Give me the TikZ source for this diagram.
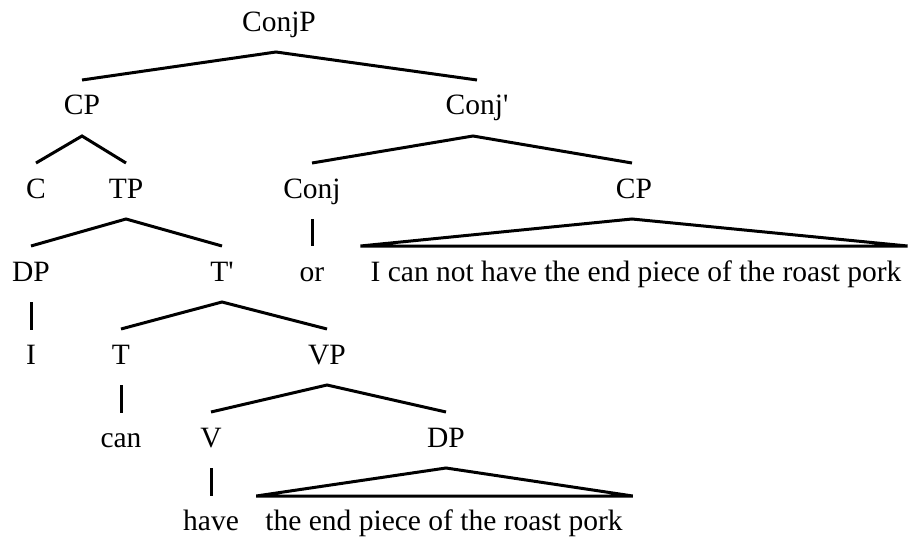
\documentclass[tikz,border=0pt]{standalone}
\usepackage{fontspec}
\setmainfont{Liberation Serif}
\begin{document}
\begin{tikzpicture}[x=1pt,y=-1pt,
  lab/.style={anchor=base,inner sep=0pt,font=\fontsize{29.5}{32}\selectfont},
  edge/.style={line width=3pt,line join=miter},
  ]
\useasboundingbox (0,0) rectangle (909,540);
% row 0
\node[lab] (conjp) at (279,32) {ConjP};
% row 1
\node[lab] (cpa) at (82,115) {CP};
\node[lab] (conjbar) at (477,115) {Conj\textquotesingle};
% row 2
\node[lab] (c) at (36,198) {C};
\node[lab] (tp) at (126,198) {TP};
\node[lab] (conj) at (312,198) {Conj};
\node[lab] (cpb) at (634,198) {CP};
% row 3
\node[lab] (dpa) at (31,281) {DP};
\node[lab] (tbar) at (222,281) {T\textquotesingle};
\node[lab] (or) at (312,281) {or};
\node[lab] (sa) at (636,281) {I can not have the end piece of the roast pork};
% row 4
\node[lab] (i) at (31,364) {I};
\node[lab] (t) at (121,364) {T};
\node[lab] (vp) at (327,364) {VP};
% row 5
\node[lab] (can) at (121,447) {can};
\node[lab] (v) at (211,447) {V};
\node[lab] (dpb) at (446,447) {DP};
% row 6
\node[lab] (have) at (211,530) {have};
\node[lab] (sb) at (444,530) {the end piece of the roast pork};

% branches
\draw[edge] ([yshift=35pt]cpa.base) -- ([xshift=-3pt,yshift=-20pt]conjp.base) -- ([yshift=35pt]conjbar.base);
\draw[edge] ([yshift=35pt]c.base) -- ([yshift=-21pt]cpa.base) -- ([yshift=35pt]tp.base);
\draw[edge] ([yshift=35pt]conj.base) -- ([xshift=-4pt,yshift=-21pt]conjbar.base) -- ([xshift=-2pt,yshift=35pt]cpb.base);
\draw[edge] ([yshift=35pt]dpa.base) -- ([yshift=-21pt]tp.base) -- ([yshift=35pt]tbar.base);
\draw[edge] ([yshift=35pt]t.base) -- ([yshift=-21pt]tbar.base) -- ([yshift=35pt]vp.base);
\draw[edge] ([yshift=35pt]v.base) -- ([yshift=-21pt]vp.base) -- ([yshift=35pt]dpb.base);
% unary
\draw[edge] ([yshift=-21pt]conj.base) -- ([yshift=35pt]or.base);
\draw[edge] ([yshift=-21pt]dpa.base) -- ([yshift=34pt]i.base);
\draw[edge] ([yshift=-21pt]t.base) -- ([yshift=34pt]can.base);
\draw[edge] ([yshift=-21pt]v.base) -- ([yshift=34pt]have.base);
% triangles
\coordinate (sal) at ([xshift=-10pt,yshift=35pt]sa.base west);
\coordinate (sar) at ([xshift=6pt,yshift=35pt]sa.base east);
\draw[edge] (sal) -- ([xshift=-2pt,yshift=-21pt]cpb.base) -- (sar) -- cycle;
\coordinate (sbl) at ([xshift=-9pt,yshift=34pt]sb.base west);
\coordinate (sbr) at ([xshift=10pt,yshift=34pt]sb.base east);
\draw[edge] (sbl) -- ([yshift=-21pt]dpb.base) -- (sbr) -- cycle;
\end{tikzpicture}
\end{document}
